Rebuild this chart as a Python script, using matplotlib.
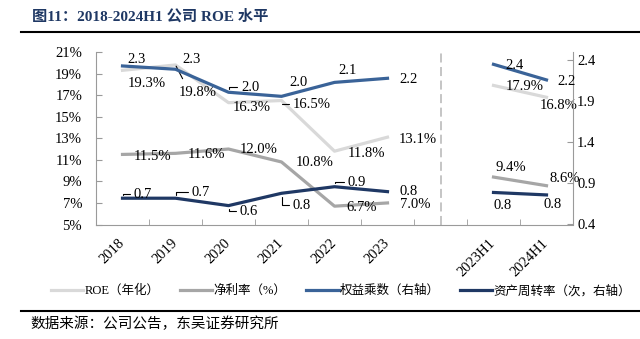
import numpy as np
import matplotlib
matplotlib.use('Agg')
import matplotlib.pyplot as plt
from matplotlib.lines import Line2D
from matplotlib.ticker import FuncFormatter
import matplotlib.transforms as mtransforms

# ---------------- data ----------------
categories = ['2018', '2019', '2020', '2021', '2022', '2023', '', '2023H1', '2024H1']
roe = [19.3, 19.8, 16.3, 16.5, 11.8, 13.1, None, 17.9, 16.8]            # %
net_margin = [11.5, 11.6, 12.0, 10.8, 6.7, 7.0, None, 9.4, 8.6]          # %
equity_mult = [2.33, 2.29, 2.01, 1.96, 2.13, 2.18, None, 2.35, 2.16]     # right axis
asset_turn = [0.72, 0.72, 0.63, 0.78, 0.86, 0.80, None, 0.79, 0.76]      # right axis
left_ticks = [5, 7, 9, 11, 13, 15, 17, 19, 21]
right_ticks = [0.4, 0.9, 1.4, 1.9, 2.4]
series_names = ['ROE（年化）', '净利率（%）', '权益乘数（右轴）', '资产周转率（次，右轴）']

# label offsets (pixels) relative to each point
roe_off = [(24.5, -12.7), (22.5, -28), (23.5, -5.3), (30.5, -3.5), (31.5, -2), (30.5, -2), None, (31.5, -0.6), (12.5, -8.7)]
nm_off = [(30.5, -1.6), (30.5, -1.6), (30.5, 0), (33.5, -1), (27.5, -1), (27.5, -2), None, (17.5, 10), (18.5, 7)]
em_off = [(14.5, 6.8), (16.5, 10), (21.5, 5), (17.5, 14), (13.5, 12), (21.5, -1), None, (21.5, -1), (20.5, -1.4)]
at_off = [(20.5, 4), (25.5, 6), (20.5, -5.4), (20.5, -12), (22.5, 4.7), (21.5, 0), None, (9.5, -12.6), (6.5, -10)]
roe_lead = {1: 'straight', 3: 'angle'}
nm_lead = {}
em_lead = {2: 'angle'}
at_lead = {0: 'angle', 1: 'angle', 2: 'angle', 3: 'angle', 4: 'angle'}

SERIF = ['Liberation Serif', 'Noto Sans CJK SC']
CJK = ['Noto Sans CJK SC', 'DejaVu Sans']
GRAY = '#9A9A9A'

def arr(v):
    return np.array([np.nan if a is None else a for a in v], dtype=float)

W, H = 640, 339
fig = plt.figure(figsize=(W / 100, H / 100), dpi=100)
ax = fig.add_axes([96 / W, 1 - 224.5 / H, 477 / W, 172.5 / H])
ax2 = ax.twinx()

x = np.arange(len(categories))
LW = 2.3
l_roe, = ax.plot(x, arr(roe), color='#D9D9D9', lw=LW, zorder=2)
l_nm, = ax.plot(x, arr(net_margin), color='#A6A6A6', lw=LW, zorder=2)
l_em, = ax2.plot(x, arr(equity_mult), color='#3A6398', lw=LW, zorder=3)
l_at, = ax2.plot(x, arr(asset_turn), color='#1F3864', lw=LW, zorder=3)

gap = categories.index('')
ax.axvline(gap, color='#C0C0C0', lw=1.3, dashes=(5, 2.5), zorder=1)

ax.set_xlim(-0.5, len(categories) - 0.5)
ax.set_ylim(left_ticks[0], left_ticks[-1])
ax2.set_ylim(right_ticks[0], 2.5)

ax.set_xticks(x)
ax.set_xticklabels(categories, rotation=45, ha='right', va='center', rotation_mode='anchor',
                   family=SERIF, fontsize=10.5)
offset = mtransforms.ScaledTranslation(-3 / 100, 0, fig.dpi_scale_trans)
for t in ax.get_xticklabels():
    t.set_transform(t.get_transform() + offset)
ax.tick_params(axis='x', which='major', length=0, pad=12)
ax.set_xticks(np.arange(0.5, len(categories) - 1, 1), minor=True)
ax.tick_params(axis='x', which='minor', direction='in', length=4, color=GRAY)

ax.set_yticks(left_ticks)
ax.yaxis.set_major_formatter(FuncFormatter(lambda v, p: f'{v:.0f}%'))
ax.tick_params(axis='y', direction='in', length=4, color=GRAY, pad=10, labelsize=10.5)
ax2.set_yticks(right_ticks)
ax2.yaxis.set_major_formatter(FuncFormatter(lambda v, p: f'{v:.1f}'))
ax2.tick_params(axis='y', direction='in', length=4, color=GRAY, pad=3, labelsize=10.5)
for a in (ax, ax2):
    for t in a.get_yticklabels():
        t.set_family(SERIF)

for s in ['top', 'right']:
    ax.spines[s].set_visible(False)
for s in ['top', 'left', 'bottom']:
    ax2.spines[s].set_visible(False)
ax.spines['left'].set_color(GRAY)
ax.spines['bottom'].set_color(GRAY)
ax2.spines['right'].set_color(GRAY)

def labels(a, vals, offs, fmt, leads):
    for i, v in enumerate(vals):
        if v is None:
            continue
        dx, dy = offs[i]
        kw = {}
        style = leads.get(i)
        if style == 'angle':
            kw['arrowprops'] = dict(arrowstyle='-', color='black', lw=0.8, shrinkA=1, shrinkB=2.5,
                                    relpos=(0, 0.5),
                                    connectionstyle='angle,angleA=0,angleB=90,rad=0')
        elif style == 'straight':
            kw['arrowprops'] = dict(arrowstyle='-', color='black', lw=0.8, shrinkA=4, shrinkB=1,
                                    relpos=(0.2, 1), connectionstyle='arc3')
        a.annotate(fmt(v), xy=(i, v), xytext=(dx, dy), textcoords='offset pixels',
                   ha='center', va='center', fontsize=10.5, family=SERIF, zorder=5, **kw)

labels(ax, roe, roe_off, lambda v: f'{v:.1f}%', roe_lead)
labels(ax, net_margin, nm_off, lambda v: f'{v:.1f}%', nm_lead)
labels(ax2, equity_mult, em_off, lambda v: f'{v:.1f}', em_lead)
labels(ax2, asset_turn, at_off, lambda v: f'{v:.1f}', at_lead)

# title, rules, source
fig.text(32 / W, 1 - 16 / H, '图11：2018-2024H1 公司 ROE 水平', fontsize=11, fontweight='bold',
         color='#1F3864', family=SERIF, va='center', ha='left')
fig.add_artist(Line2D([21 / W, 1], [1 - 32 / H] * 2, color='black', lw=1.5))
fig.add_artist(Line2D([21 / W, 1], [1 - 311 / H] * 2, color='black', lw=1.5))
fig.text(30 / W, 1 - 324 / H, '数据来源：公司公告，东吴证券研究所', fontsize=10.5,
         family=CJK, va='center', ha='left')

fig.legend([l_roe, l_nm, l_em, l_at], series_names, loc='center',
           bbox_to_anchor=(341 / W, 1 - 291 / H), ncol=4, frameon=False,
           prop=dict(family=SERIF, size=9), handlelength=2.6, handletextpad=0.1,
           columnspacing=1.6, borderaxespad=0, borderpad=0)

fig.savefig('out.png', dpi=100)
